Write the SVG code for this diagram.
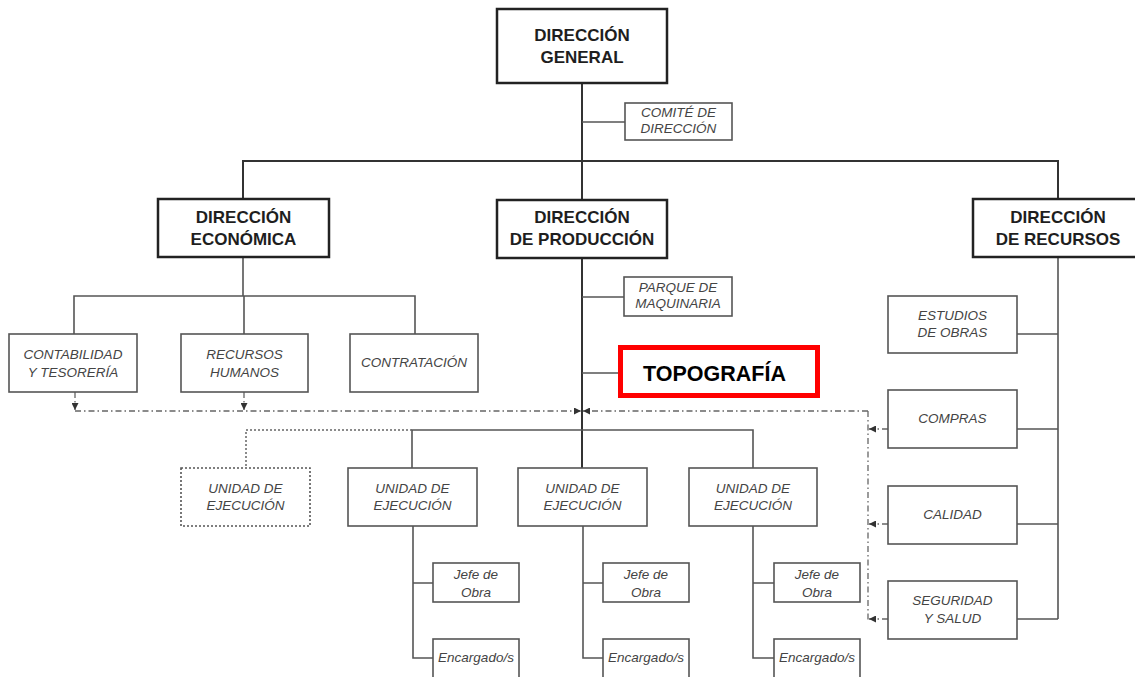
<svg xmlns="http://www.w3.org/2000/svg" width="1135" height="677" viewBox="0 0 1135 677">
<defs>
<style>
.b1{fill:#fff;stroke:#222;stroke-width:2.5}
.b2{fill:#fff;stroke:#555;stroke-width:1.6}
.b2d{fill:#fff;stroke:#555;stroke-width:1.6;stroke-dasharray:2,2}
.t1{font-family:"Liberation Sans",Arial,sans-serif;font-weight:bold;font-size:17px;fill:#1e1e1e;text-anchor:middle}
.t2{font-family:"Liberation Sans",Arial,sans-serif;font-style:italic;font-size:13.5px;fill:#444;text-anchor:middle}
.s{fill:none;stroke:#333;stroke-width:2}
.s2{fill:none;stroke:#555;stroke-width:1.6}
.dd{fill:none;stroke:#666;stroke-width:1.3;stroke-dasharray:6,3,1.5,3}
.dt{fill:none;stroke:#666;stroke-width:1.5;stroke-dasharray:2,2}
</style>
<marker id="ah" viewBox="0 0 8 8" refX="8" refY="4" markerWidth="7" markerHeight="7" markerUnits="userSpaceOnUse" orient="auto"><path d="M0,0 L8,4 L0,8 z" fill="#333"/></marker>
</defs>
<rect width="1135" height="677" fill="#fff"/>

<g id="connectors">
<path class="s" d="M582 83 V468"/>
<path class="s2" d="M582 122 H625"/>
<path class="s" d="M243 200 V161 H1058 V199"/>
<path class="s2" d="M243 257 V296 M74 334 V296 H415 V334 M244 296 V334"/>
<path class="s2" d="M582 297 H624 M582 373 H618"/>
<path class="s2" d="M1058 257 V619 M1017 334 H1058 M1017 429 H1058 M1017 524 H1058 M1017 619 H1058"/>
<path class="s2" d="M412 468 V430 H753 V468"/>
<path class="dt" d="M412 430 H246 V468"/>
<path class="s2" d="M413 526 V658 H433 M413 583 H433"/>
<path class="s2" d="M583 526 V658 H603 M583 583 H603"/>
<path class="s2" d="M753 526 V658 H774 M753 583 H774"/>
<path class="dd" d="M75 392 V410" marker-end="url(#ah)"/>
<path class="dd" d="M244 392 V410" marker-end="url(#ah)"/>
<path class="dd" d="M75 411 H581" marker-end="url(#ah)"/>
<path class="dd" d="M868 411 H583" marker-end="url(#ah)"/>
<path class="dd" d="M868 411 V620"/>
<path class="dd" d="M888 429 H869" marker-end="url(#ah)"/>
<path class="dd" d="M888 524 H869" marker-end="url(#ah)"/>
<path class="dd" d="M888 619 H869" marker-end="url(#ah)"/>
</g>

<g id="direccion-general">
<rect class="b1" x="497" y="9" width="170" height="74"/>
<text class="t1" x="582" y="41" font-size="18.5">DIRECCIÓN</text>
<text class="t1" x="582" y="63" font-size="18.5">GENERAL</text>
</g>
<g id="comite">
<rect class="b2" x="625" y="103" width="107" height="37"/>
<text class="t2" x="678.5" y="117" font-size="12">COMITÉ DE</text>
<text class="t2" x="678.5" y="133" font-size="12">DIRECCIÓN</text>
</g>
<g id="dir-economica">
<rect class="b1" x="158" y="199" width="171" height="58"/>
<text class="t1" x="243.5" y="223">DIRECCIÓN</text>
<text class="t1" x="243.5" y="245">ECONÓMICA</text>
</g>
<g id="dir-produccion">
<rect class="b1" x="497" y="200" width="170" height="58"/>
<text class="t1" x="582" y="223">DIRECCIÓN</text>
<text class="t1" x="582" y="245">DE PRODUCCIÓN</text>
</g>
<g id="dir-recursos">
<rect class="b1" x="973" y="199" width="170" height="58"/>
<text class="t1" x="1058" y="223">DIRECCIÓN</text>
<text class="t1" x="1058" y="245">DE RECURSOS</text>
</g>
<g id="contabilidad">
<rect class="b2" x="9" y="334" width="128" height="58"/>
<text class="t2" x="73" y="359">CONTABILIDAD</text>
<text class="t2" x="73" y="377">Y TESORERÍA</text>
</g>
<g id="rrhh">
<rect class="b2" x="181" y="334" width="127" height="58"/>
<text class="t2" x="244.5" y="359">RECURSOS</text>
<text class="t2" x="244.5" y="377">HUMANOS</text>
</g>
<g id="contratacion">
<rect class="b2" x="350" y="334" width="128" height="58"/>
<text class="t2" x="414" y="367" font-size="12">CONTRATACIÓN</text>
</g>
<g id="parque">
<rect class="b2" x="624" y="277" width="108" height="39"/>
<text class="t2" x="678" y="292" font-size="12">PARQUE DE</text>
<text class="t2" x="678" y="308" font-size="12">MAQUINARIA</text>
</g>
<g id="topografia">
<rect x="620.5" y="347.5" width="197" height="48" fill="#fff" stroke="#ff0000" stroke-width="5"/>
<text x="643" y="381" font-family="'Liberation Sans',Arial,sans-serif" font-weight="bold" font-size="21.5" fill="#000">TOPOGRAFÍA</text>
</g>
<g id="ue-dotted">
<rect class="b2d" x="181" y="468" width="129" height="58"/>
<text class="t2" x="245.5" y="493">UNIDAD DE</text>
<text class="t2" x="245.5" y="510">EJECUCIÓN</text>
</g>
<g id="ue-1">
<rect class="b2" x="348" y="468" width="129" height="58"/>
<text class="t2" x="412.5" y="493">UNIDAD DE</text>
<text class="t2" x="412.5" y="510">EJECUCIÓN</text>
</g>
<g id="ue-2">
<rect class="b2" x="518" y="468" width="129" height="58"/>
<text class="t2" x="582.5" y="493">UNIDAD DE</text>
<text class="t2" x="582.5" y="510">EJECUCIÓN</text>
</g>
<g id="ue-3">
<rect class="b2" x="689" y="468" width="128" height="58"/>
<text class="t2" x="753" y="493">UNIDAD DE</text>
<text class="t2" x="753" y="510">EJECUCIÓN</text>
</g>
<g id="jefe-1">
<rect class="b2" x="433" y="563" width="86" height="39"/>
<text class="t2" x="476" y="579" font-size="15">Jefe de</text>
<text class="t2" x="476" y="597" font-size="15">Obra</text>
</g>
<g id="jefe-2">
<rect class="b2" x="603" y="563" width="86" height="39"/>
<text class="t2" x="646" y="579" font-size="15">Jefe de</text>
<text class="t2" x="646" y="597" font-size="15">Obra</text>
</g>
<g id="jefe-3">
<rect class="b2" x="774" y="563" width="86" height="39"/>
<text class="t2" x="817" y="579" font-size="15">Jefe de</text>
<text class="t2" x="817" y="597" font-size="15">Obra</text>
</g>
<g id="enc-1">
<rect class="b2" x="433" y="639" width="86" height="40"/>
<text class="t2" x="476" y="662" font-size="12.5">Encargado/s</text>
</g>
<g id="enc-2">
<rect class="b2" x="603" y="639" width="86" height="40"/>
<text class="t2" x="646" y="662" font-size="12.5">Encargado/s</text>
</g>
<g id="enc-3">
<rect class="b2" x="774" y="639" width="86" height="40"/>
<text class="t2" x="817" y="662" font-size="12.5">Encargado/s</text>
</g>
<g id="estudios">
<rect class="b2" x="888" y="296" width="129" height="57"/>
<text class="t2" x="952.5" y="320">ESTUDIOS</text>
<text class="t2" x="952.5" y="337">DE OBRAS</text>
</g>
<g id="compras">
<rect class="b2" x="888" y="390" width="129" height="58"/>
<text class="t2" x="952.5" y="423">COMPRAS</text>
</g>
<g id="calidad">
<rect class="b2" x="888" y="486" width="129" height="58"/>
<text class="t2" x="952.5" y="519">CALIDAD</text>
</g>
<g id="seguridad">
<rect class="b2" x="888" y="581" width="129" height="58"/>
<text class="t2" x="952.5" y="605">SEGURIDAD</text>
<text class="t2" x="952.5" y="623">Y SALUD</text>
</g>
</svg>
